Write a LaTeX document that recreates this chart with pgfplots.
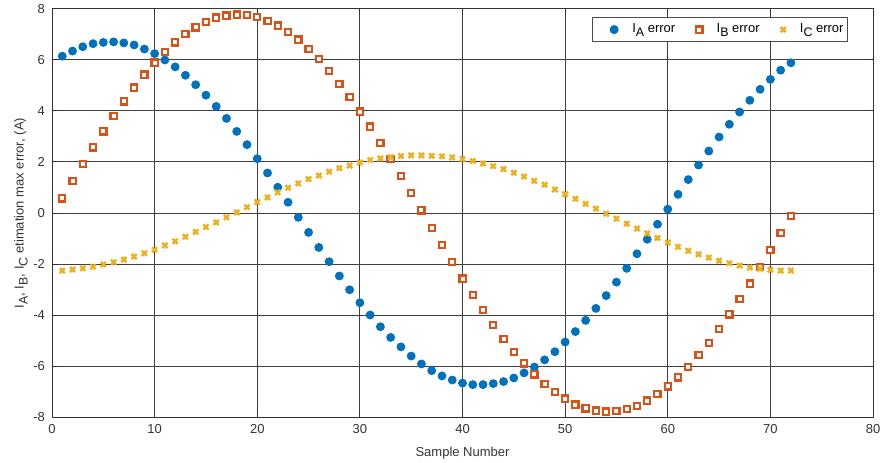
\documentclass[border=0pt]{standalone}
\usepackage{pgfplots}
\pgfplotsset{compat=1.18}
\usepackage{fontspec}
\setmainfont{Liberation Sans}
\definecolor{mblue}{RGB}{0,114,189}
\definecolor{morange}{RGB}{217,83,25}
\definecolor{myellow}{RGB}{237,177,32}
\newcommand{\sub}[1]{\raisebox{-2pt}{\fontsize{6.2}{6.2}\selectfont #1}}
\pgfplotsset{padlegend/.style={legend image code/.code={\path (-10pt,0pt); \draw[##1,only marks] plot coordinates {(0pt,0pt)};}}}
\begin{document}
\begin{tikzpicture}
\path[use as bounding box] (-26pt,-22.5pt) rectangle (414.5pt,208.5pt);
\begin{axis}[
  at={(0pt,0pt)}, anchor=south west,
  width=410.5pt, height=204pt, scale only axis,
  xmin=0, xmax=80, ymin=-8, ymax=8,
  xtick={0,10,...,80}, ytick={-8,-6,...,8},
  grid=major,
  major grid style={line width=0.5pt, draw=black!75},
  axis line style={line width=0.5pt, draw=black!80},
  tick style={black!80, line width=0.5pt},
  tick align=inside,
  major tick length=3pt,
  font=\fontsize{6.5}{7.5}\selectfont,
  ticklabel style={font=\fontsize{6.5}{7.5}\selectfont, text=black!80},
  /pgf/number format/assume math mode=true,
  xlabel={Sample Number},
  ylabel={I\sub{A}, I\sub{B}, I\sub{C} etimation max error, (A)},
  xlabel style={yshift=0pt, text=black!80},
  ylabel style={yshift=-4pt, text=black!80},
  legend columns=3,
  legend style={at={(0.9696,0.980)}, anchor=north east, draw=black!70, line width=0.5pt,
    font=\fontsize{6.5}{7.5}\selectfont, inner xsep=0.5pt, inner ysep=1pt,
    nodes={inner xsep=1.5pt},
    /tikz/every odd column/.append style={column sep=5.6pt},
    /tikz/every even column/.append style={column sep=9pt}},
  legend cell align=left,
]
\addplot[only marks, mark=*, mark size=2.0pt, mblue, mark options={draw=mblue, fill=mblue}, padlegend] coordinates {
(1,6.15)(2,6.35)(3,6.52)(4,6.64)(5,6.69)(6,6.71)(7,6.67)(8,6.59)(9,6.43)(10,6.25)
(11,6.00)(12,5.73)(13,5.40)(14,5.03)(15,4.62)(16,4.18)(17,3.71)(18,3.20)(19,2.68)(20,2.13)
(21,1.57)(22,1.01)(23,0.42)(24,-0.17)(25,-0.76)(26,-1.35)(27,-1.91)(28,-2.47)(29,-3.01)(30,-3.52)
(31,-4.00)(32,-4.46)(33,-4.88)(34,-5.25)(35,-5.61)(36,-5.92)(37,-6.18)(38,-6.39)(39,-6.55)(40,-6.67)
(41,-6.73)(42,-6.73)(43,-6.69)(44,-6.61)(45,-6.47)(46,-6.27)(47,-6.04)(48,-5.76)(49,-5.44)(50,-5.06)
(51,-4.65)(52,-4.21)(53,-3.74)(54,-3.24)(55,-2.71)(56,-2.17)(57,-1.60)(58,-1.03)(59,-0.44)(60,0.15)
(61,0.73)(62,1.31)(63,1.88)(64,2.43)(65,2.98)(66,3.48)(67,3.96)(68,4.42)(69,4.85)(70,5.24)
(71,5.60)(72,5.89)
};
\addlegendentry{I\sub{A} error}
\addplot[only marks, mark=square*, mark size=1.55pt, mark options={draw=morange, fill=white, line width=1.1pt}] coordinates {
(1,0.57)(2,1.25)(3,1.91)(4,2.57)(5,3.20)(6,3.81)(7,4.38)(8,4.92)(9,5.43)(10,5.90)
(11,6.32)(12,6.69)(13,7.01)(14,7.28)(15,7.49)(16,7.66)(17,7.74)(18,7.78)(19,7.77)(20,7.69)
(21,7.54)(22,7.35)(23,7.10)(24,6.80)(25,6.43)(26,6.03)(27,5.57)(28,5.07)(29,4.55)(30,3.98)
(31,3.39)(32,2.75)(33,2.11)(34,1.46)(35,0.78)(36,0.10)(37,-0.58)(38,-1.25)(39,-1.93)(40,-2.57)
(41,-3.21)(42,-3.81)(43,-4.39)(44,-4.93)(45,-5.44)(46,-5.90)(47,-6.33)(48,-6.70)(49,-7.02)(50,-7.28)
(51,-7.51)(52,-7.66)(53,-7.75)(54,-7.79)(55,-7.77)(56,-7.69)(57,-7.56)(58,-7.36)(59,-7.10)(60,-6.80)
(61,-6.45)(62,-6.03)(63,-5.57)(64,-5.09)(65,-4.56)(66,-3.98)(67,-3.38)(68,-2.77)(69,-2.11)(70,-1.45)
(71,-0.78)(72,-0.11)
};
\addlegendentry{I\sub{B} error}
\addplot[only marks, mark=x, mark size=1.8pt, mark options={draw=myellow, line width=1.25pt}] coordinates {
(1,-2.26)(2,-2.22)(3,-2.17)(4,-2.11)(5,-2.02)(6,-1.93)(7,-1.83)(8,-1.71)(9,-1.58)(10,-1.44)
(11,-1.27)(12,-1.11)(13,-0.93)(14,-0.74)(15,-0.55)(16,-0.37)(17,-0.17)(18,0.02)(19,0.23)(20,0.43)
(21,0.61)(22,0.81)(23,0.99)(24,1.16)(25,1.33)(26,1.47)(27,1.62)(28,1.76)(29,1.86)(30,1.98)
(31,2.08)(32,2.14)(33,2.19)(34,2.23)(35,2.26)(36,2.26)(37,2.24)(38,2.22)(39,2.18)(40,2.11)
(41,2.04)(42,1.94)(43,1.84)(44,1.72)(45,1.58)(46,1.43)(47,1.26)(48,1.11)(49,0.92)(50,0.74)
(51,0.56)(52,0.36)(53,0.17)(54,-0.03)(55,-0.22)(56,-0.42)(57,-0.61)(58,-0.80)(59,-0.98)(60,-1.16)
(61,-1.33)(62,-1.48)(63,-1.62)(64,-1.75)(65,-1.87)(66,-1.97)(67,-2.06)(68,-2.14)(69,-2.19)(70,-2.23)
(71,-2.26)(72,-2.26)
};
\addlegendentry{I\sub{C} error}
\end{axis}
\end{tikzpicture}
\end{document}
